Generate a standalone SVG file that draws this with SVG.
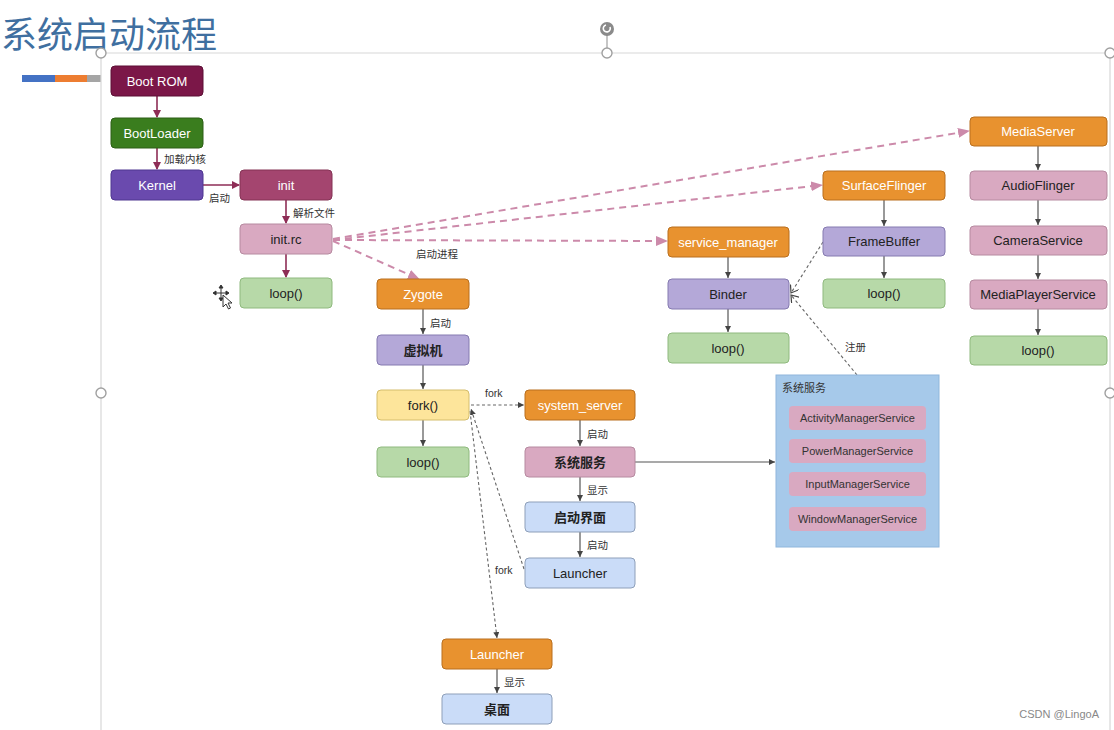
<svg xmlns="http://www.w3.org/2000/svg" width="1114" height="730" viewBox="0 0 1114 730">
<defs>
<style>
text{font-family:"Liberation Sans","Noto Sans CJK SC",sans-serif}
.n{stroke-width:1}
.t{font-size:13px;text-anchor:middle}
.w{fill:#ffffff}
.d{fill:#222222}
.b{font-weight:bold}
.lbl{font-size:10.5px;fill:#333333}
.maroon{fill:#7b1748;stroke:#5c0f35}
.green{fill:#3a7d1e;stroke:#2c5f16}
.purple{fill:#6a4aae;stroke:#4f3690}
.rose{fill:#a4456f;stroke:#843355}
.pink{fill:#d9a9c1;stroke:#b68aa0}
.lgreen{fill:#b7d9a8;stroke:#8fb97e}
.orange{fill:#e8922f;stroke:#b96f1e}
.lav{fill:#b4a8d8;stroke:#857ab0}
.yellow{fill:#fde59b;stroke:#d4bd6c}
.lblue{fill:#cadcf8;stroke:#8e9fb9}
.solidM{stroke:#8e2d56;stroke-width:1.6;fill:none}
.dashP{stroke:#cc8aaa;stroke-width:2;stroke-dasharray:7 5;fill:none}
.solidG{stroke:#555555;stroke-width:1.2;fill:none}
.dotG{stroke:#666666;stroke-width:1.1;stroke-dasharray:3 2.5;fill:none}
.frame{stroke:#d8d8d8;stroke-width:1.2;fill:none}
.handle{fill:#ffffff;stroke:#a0a0a0;stroke-width:1.4}
</style>
<marker id="aM" markerWidth="8" markerHeight="8" refX="7" refY="4" orient="auto" markerUnits="userSpaceOnUse"><path d="M0,0 L8,4 L0,8 z" fill="#8e2d56"/></marker>
<marker id="aP" markerWidth="12" markerHeight="10" refX="11" refY="5" orient="auto" markerUnits="userSpaceOnUse"><path d="M0,0 L12,5 L0,10 z" fill="#cc8aaa"/></marker>
<marker id="aG" markerWidth="6" markerHeight="6" refX="6" refY="3" orient="auto" markerUnits="userSpaceOnUse"><path d="M0,0 L6,3 L0,6 z" fill="#444444"/></marker>
<marker id="aO" markerWidth="8" markerHeight="10" refX="7" refY="5" orient="auto" markerUnits="userSpaceOnUse"><path d="M0,0 L7,5 L0,10" fill="none" stroke="#444444" stroke-width="1.2"/></marker>
</defs>
<rect width="1114" height="730" fill="#ffffff"/>

<g id="slide-frame">
<text x="1" y="48" font-size="36" fill="#3f6fa0" style="font-family:'Noto Sans CJK SC','Liberation Sans',sans-serif">系统启动流程</text>
<rect x="22" y="75" width="33" height="7" fill="#4472c4"/>
<rect x="55" y="75" width="32" height="7" fill="#ed7d31"/>
<rect x="87" y="75" width="14" height="7" fill="#a5a5a5"/>
<path class="frame" d="M101,53 H1110 M101,53 V730 M1110,53 V730"/>
<line x1="607" y1="29" x2="607" y2="53" stroke="#a0a0a0" stroke-width="1.2"/>
<circle cx="607" cy="29" r="7" fill="#8a8a8a"/>
<path d="M610,27 A3.5,3.5 0 1 1 606,25" fill="none" stroke="#ffffff" stroke-width="1.6"/>
<circle class="handle" cx="101" cy="53" r="5"/>
<circle class="handle" cx="607" cy="53" r="5"/>
<circle class="handle" cx="1110" cy="53" r="5"/>
<circle class="handle" cx="101" cy="393" r="5"/>
<circle class="handle" cx="1110" cy="393" r="5"/>
<text x="1099" y="718" font-size="11" fill="#888888" text-anchor="end">CSDN @LingoA</text>
<g transform="translate(221,293)" stroke="#333333" stroke-width="1" fill="#ffffff">
<path d="M0,-7 V7 M-7,0 H7" fill="none"/>
<path d="M0,-8 l-2,3 h4 z M0,8 l-2,-3 h4 z M-8,0 l3,-2 v4 z M8,0 l-3,-2 v4 z" fill="#333333"/>
<path d="M2,2 L2,14 L5,11 L7.5,16 L9.5,15 L7,10 L11,10 z"/>
</g>
</g>

<g id="connectors">
<line class="solidM" x1="157" y1="96" x2="157" y2="117" marker-end="url(#aM)"/>
<line class="solidM" x1="157" y1="148" x2="157" y2="169" marker-end="url(#aM)"/>
<text class="lbl" x="164" y="163">加载内核</text>
<line class="solidM" x1="203" y1="185" x2="239" y2="185" marker-end="url(#aM)"/>
<text class="lbl" x="209" y="202">启动</text>
<line class="solidM" x1="286" y1="200" x2="286" y2="223" marker-end="url(#aM)"/>
<text class="lbl" x="293" y="217">解析文件</text>
<line class="solidM" x1="286" y1="254" x2="286" y2="277" marker-end="url(#aM)"/>

<line class="dashP" x1="333" y1="239" x2="969" y2="131" marker-end="url(#aP)"/>
<line class="dashP" x1="333" y1="240" x2="822" y2="185" marker-end="url(#aP)"/>
<line class="dashP" x1="333" y1="240" x2="667" y2="241" marker-end="url(#aP)"/>
<line class="dashP" x1="333" y1="241" x2="419" y2="279" marker-end="url(#aP)"/>
<text class="lbl" x="416" y="258">启动进程</text>

<line class="solidG" x1="423" y1="309" x2="423" y2="334" marker-end="url(#aG)"/>
<text class="lbl" x="430" y="327">启动</text>
<line class="solidG" x1="423" y1="365" x2="423" y2="389" marker-end="url(#aG)"/>
<line class="solidG" x1="423" y1="420" x2="423" y2="446" marker-end="url(#aG)"/>

<line class="dotG" x1="471" y1="405" x2="524" y2="405" marker-end="url(#aG)"/>
<text class="lbl" x="485" y="397">fork</text>
<line class="dotG" x1="524" y1="569" x2="471" y2="409" marker-end="url(#aG)"/>
<line class="dotG" x1="470" y1="411" x2="497" y2="638" marker-end="url(#aG)"/>
<text class="lbl" x="495" y="574">fork</text>

<line class="solidG" x1="580" y1="420" x2="580" y2="446" marker-end="url(#aG)"/>
<text class="lbl" x="587" y="438">启动</text>
<line class="solidG" x1="580" y1="477" x2="580" y2="501" marker-end="url(#aG)"/>
<text class="lbl" x="587" y="494">显示</text>
<line class="solidG" x1="580" y1="532" x2="580" y2="557" marker-end="url(#aG)"/>
<text class="lbl" x="587" y="549">启动</text>
<line class="solidG" x1="497" y1="669" x2="497" y2="693" marker-end="url(#aG)"/>
<text class="lbl" x="504" y="686">显示</text>

<line class="solidG" x1="635" y1="462" x2="775" y2="462" stroke-width="1" marker-end="url(#aG)"/>

<line class="solidG" x1="728" y1="257" x2="728" y2="278" marker-end="url(#aG)"/>
<line class="solidG" x1="728" y1="309" x2="728" y2="332" marker-end="url(#aG)"/>
<line class="dotG" x1="857" y1="375" x2="791" y2="295" marker-end="url(#aO)"/>
<line class="dotG" x1="823" y1="242" x2="791" y2="293" marker-end="url(#aO)"/>
<text class="lbl" x="845" y="351">注册</text>

<line class="solidG" x1="884" y1="200" x2="884" y2="226" marker-end="url(#aG)"/>
<line class="solidG" x1="884" y1="256" x2="884" y2="278" marker-end="url(#aG)"/>

<line class="solidG" x1="1038" y1="146" x2="1038" y2="170" marker-end="url(#aG)"/>
<line class="solidG" x1="1038" y1="200" x2="1038" y2="225" marker-end="url(#aG)"/>
<line class="solidG" x1="1038" y1="255" x2="1038" y2="279" marker-end="url(#aG)"/>
<line class="solidG" x1="1038" y1="309" x2="1038" y2="335" marker-end="url(#aG)"/>
</g>

<g id="n-bootrom"><rect class="n maroon" x="111" y="66" width="92" height="30" rx="4"/><text class="t w" x="157" y="86">Boot ROM</text></g>
<g id="n-bootloader"><rect class="n green" x="111" y="118" width="92" height="30" rx="4"/><text class="t w" x="157" y="138">BootLoader</text></g>
<g id="n-kernel"><rect class="n purple" x="111" y="170" width="92" height="30" rx="4"/><text class="t w" x="157" y="190">Kernel</text></g>
<g id="n-init"><rect class="n rose" x="240" y="170" width="92" height="30" rx="4"/><text class="t w" x="286" y="190">init</text></g>
<g id="n-initrc"><rect class="n pink" x="240" y="224" width="92" height="30" rx="4"/><text class="t d" x="286" y="244">init.rc</text></g>
<g id="n-loop1"><rect class="n lgreen" x="240" y="278" width="92" height="30" rx="4"/><text class="t d" x="286" y="298">loop()</text></g>

<g id="n-zygote"><rect class="n orange" x="377" y="279" width="92" height="30" rx="4"/><text class="t w" x="423" y="299">Zygote</text></g>
<g id="n-vm"><rect class="n lav" x="377" y="335" width="92" height="30" rx="4"/><text class="t d b" x="423" y="355">虚拟机</text></g>
<g id="n-fork"><rect class="n yellow" x="377" y="390" width="92" height="30" rx="4"/><text class="t d" x="423" y="410">fork()</text></g>
<g id="n-loop2"><rect class="n lgreen" x="377" y="447" width="92" height="30" rx="4"/><text class="t d" x="423" y="467">loop()</text></g>

<g id="n-systemserver"><rect class="n orange" x="525" y="390" width="110" height="30" rx="4"/><text class="t w" x="580" y="410">system_server</text></g>
<g id="n-sysservice"><rect class="n pink" x="525" y="447" width="110" height="30" rx="4"/><text class="t d b" x="580" y="467">系统服务</text></g>
<g id="n-splash"><rect class="n lblue" x="525" y="502" width="110" height="30" rx="4"/><text class="t d b" x="580" y="522">启动界面</text></g>
<g id="n-launcher1"><rect class="n lblue" x="525" y="558" width="110" height="30" rx="4"/><text class="t d" x="580" y="578">Launcher</text></g>

<g id="n-launcher2"><rect class="n orange" x="442" y="639" width="110" height="30" rx="4"/><text class="t w" x="497" y="659">Launcher</text></g>
<g id="n-desktop"><rect class="n lblue" x="442" y="694" width="110" height="30" rx="4"/><text class="t d b" x="497" y="714">桌面</text></g>

<g id="n-servicemanager"><rect class="n orange" x="668" y="227" width="121" height="30" rx="4"/><text class="t w" x="728" y="247">service_manager</text></g>
<g id="n-binder"><rect class="n lav" x="668" y="279" width="121" height="30" rx="4"/><text class="t d" x="728" y="299">Binder</text></g>
<g id="n-loop3"><rect class="n lgreen" x="668" y="333" width="121" height="30" rx="4"/><text class="t d" x="728" y="353">loop()</text></g>

<g id="n-surfaceflinger"><rect class="n orange" x="823" y="171" width="122" height="29" rx="4"/><text class="t w" x="884" y="190">SurfaceFlinger</text></g>
<g id="n-framebuffer"><rect class="n lav" x="823" y="227" width="122" height="29" rx="4"/><text class="t d" x="884" y="246">FrameBuffer</text></g>
<g id="n-loop4"><rect class="n lgreen" x="823" y="279" width="122" height="29" rx="4"/><text class="t d" x="884" y="298">loop()</text></g>

<g id="n-mediaserver"><rect class="n orange" x="970" y="117" width="137" height="29" rx="4"/><text class="t w" x="1038" y="136">MediaServer</text></g>
<g id="n-audioflinger"><rect class="n pink" x="970" y="171" width="137" height="29" rx="4"/><text class="t d" x="1038" y="190">AudioFlinger</text></g>
<g id="n-camera"><rect class="n pink" x="970" y="226" width="137" height="29" rx="4"/><text class="t d" x="1038" y="245">CameraService</text></g>
<g id="n-mediaplayer"><rect class="n pink" x="970" y="280" width="137" height="29" rx="4"/><text class="t d" x="1038" y="299">MediaPlayerService</text></g>
<g id="n-loop5"><rect class="n lgreen" x="970" y="336" width="137" height="29" rx="4"/><text class="t d" x="1038" y="355">loop()</text></g>

<g id="n-services-box">
<rect x="776" y="375" width="163" height="172" fill="#a6c9ea" stroke="#8fb6dc" stroke-width="1"/>
<text x="782" y="392" font-size="11" fill="#333333">系统服务</text>
<rect x="789" y="406" width="137" height="24" rx="4" fill="#d9a9c1"/>
<text x="857.5" y="422" font-size="11" fill="#333333" text-anchor="middle">ActivityManagerService</text>
<rect x="789" y="439" width="137" height="24" rx="4" fill="#d9a9c1"/>
<text x="857.5" y="455" font-size="11" fill="#333333" text-anchor="middle">PowerManagerService</text>
<rect x="789" y="472" width="137" height="24" rx="4" fill="#d9a9c1"/>
<text x="857.5" y="488" font-size="11" fill="#333333" text-anchor="middle">InputManagerService</text>
<rect x="789" y="507" width="137" height="24" rx="4" fill="#d9a9c1"/>
<text x="857.5" y="523" font-size="11" fill="#333333" text-anchor="middle">WindowManagerService</text>
</g>
</svg>
